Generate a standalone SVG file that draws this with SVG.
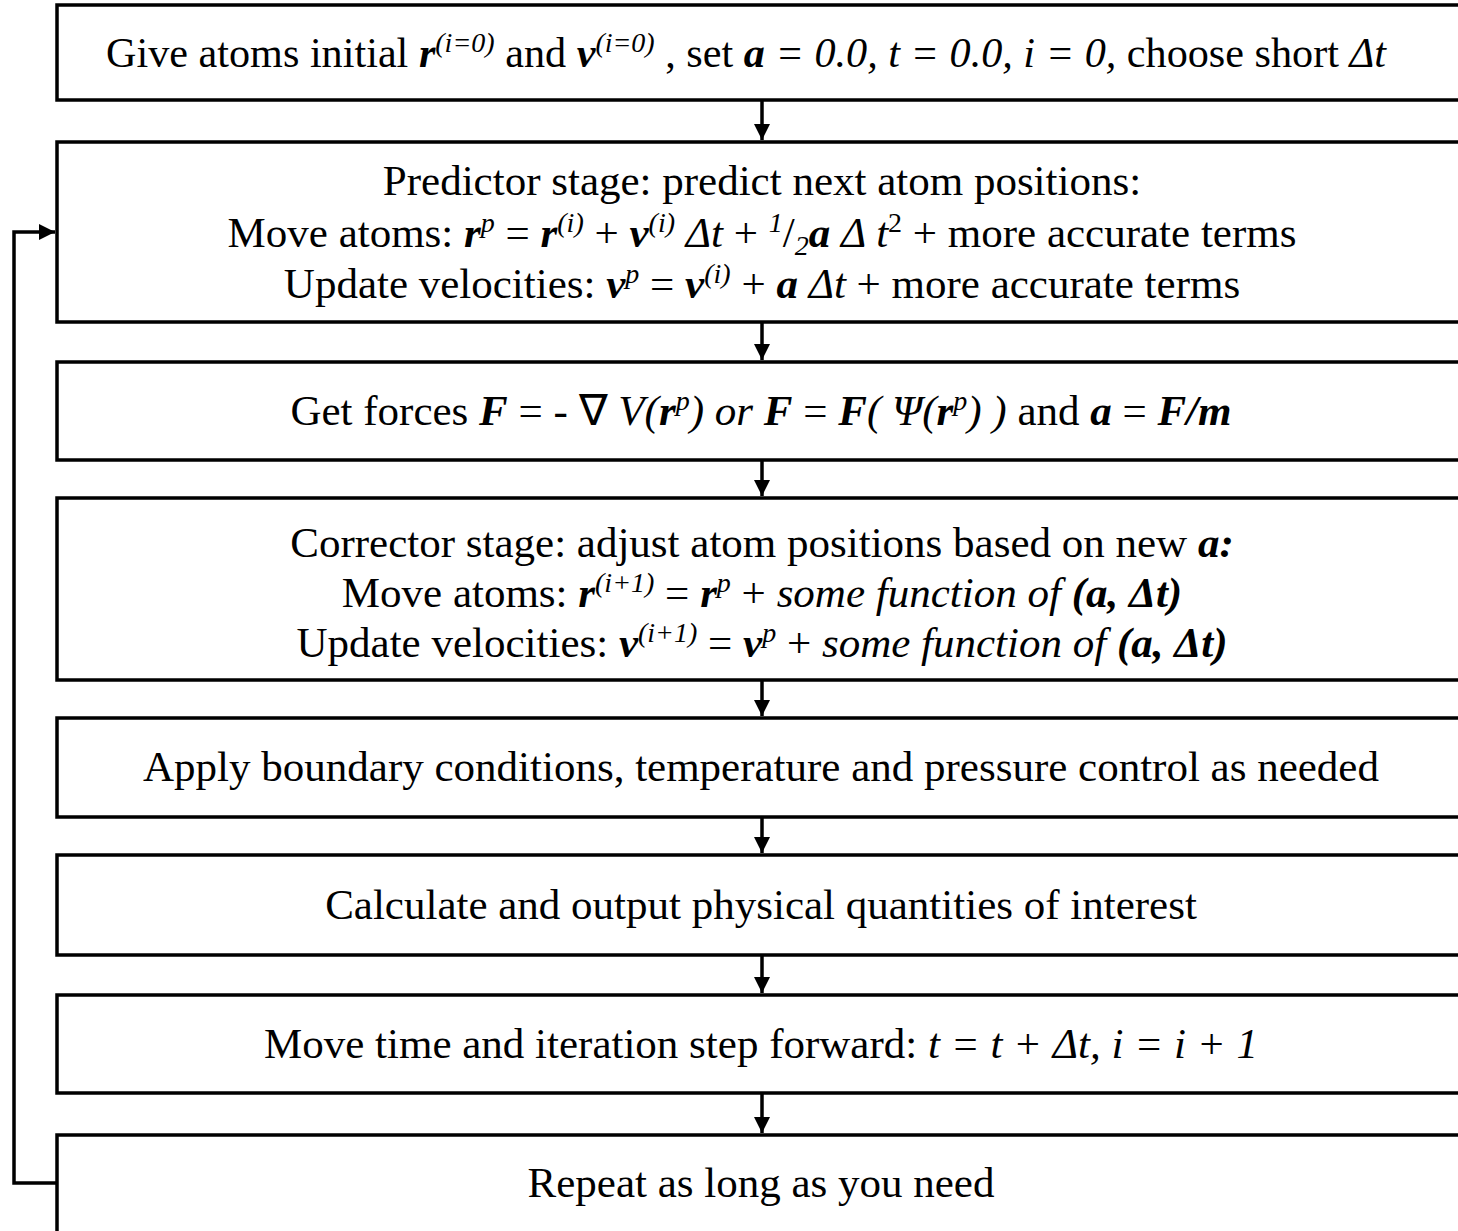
<svg xmlns="http://www.w3.org/2000/svg" width="1458" height="1231" viewBox="0 0 1458 1231">
<defs>
<style>
.box{fill:#fff;stroke:#000;stroke-width:3.5}
.t{font-family:"Liberation Serif","Times New Roman",serif;font-size:43px;fill:#000;text-anchor:middle}
.t1{font-size:42.2px}
.bi{font-weight:bold;font-style:italic}
.i{font-style:italic}
.s{font-size:28px}
.c{stroke:#000;stroke-width:3.5;fill:none}
</style>
<marker id="ah" viewBox="0 0 10 10" refX="10" refY="5" markerWidth="4.6" markerHeight="4.6" markerUnits="strokeWidth" orient="auto">
<path d="M0,0 L10,5 L0,10 Z" fill="#000"/>
</marker>
</defs>
<rect width="1458" height="1231" fill="#fff"/>
<g id="connectors">
<line class="c" x1="762" y1="101" x2="762" y2="140" marker-end="url(#ah)"/>
<line class="c" x1="762" y1="322" x2="762" y2="360" marker-end="url(#ah)"/>
<line class="c" x1="762" y1="460" x2="762" y2="496" marker-end="url(#ah)"/>
<line class="c" x1="762" y1="680" x2="762" y2="716" marker-end="url(#ah)"/>
<line class="c" x1="762" y1="817" x2="762" y2="853" marker-end="url(#ah)"/>
<line class="c" x1="762" y1="955" x2="762" y2="993" marker-end="url(#ah)"/>
<line class="c" x1="762" y1="1093" x2="762" y2="1133" marker-end="url(#ah)"/>
<polyline class="c" points="56,1183 14,1183 14,232 55,232" marker-end="url(#ah)"/>
</g>
<g id="n1">
<rect class="box" x="57" y="5" width="1420" height="95"/>
<text class="t t1" x="746" y="67">Give atoms initial <tspan class="bi">r</tspan><tspan class="i s" dy="-15">(i=0)</tspan><tspan dy="15">  and </tspan><tspan class="bi">v</tspan><tspan class="i s" dy="-15">(i=0)</tspan><tspan dy="15"> , set </tspan><tspan class="bi">a</tspan><tspan class="i"> = 0.0, t = 0.0, i = 0,</tspan> choose short <tspan class="i">Δt</tspan></text>
</g>
<g id="n2">
<rect class="box" x="57" y="142" width="1420" height="180"/>
<text class="t" x="762" y="195">Predictor stage: predict next atom positions:</text>
<text class="t" x="762" y="247">Move atoms: <tspan class="bi">r</tspan><tspan class="i s" dy="-15">p</tspan><tspan dy="15"> = </tspan><tspan class="bi">r</tspan><tspan class="i s" dy="-15">(i)</tspan><tspan dy="15"> + </tspan><tspan class="bi">v</tspan><tspan class="i s" dy="-15">(i)</tspan><tspan class="i" dy="15"> Δt</tspan> + <tspan class="i s" dy="-15">1</tspan><tspan dy="15">/</tspan><tspan class="i s" dy="8">2</tspan><tspan class="bi" dy="-8">a</tspan><tspan class="i"> Δ t</tspan><tspan class="s" dy="-15">2</tspan><tspan dy="15"> + more accurate terms</tspan></text>
<text class="t" x="762" y="298">Update velocities: <tspan class="bi">v</tspan><tspan class="i s" dy="-15">p</tspan><tspan dy="15"> = </tspan><tspan class="bi">v</tspan><tspan class="i s" dy="-15">(i)</tspan><tspan dy="15"> + </tspan><tspan class="bi">a</tspan><tspan class="i"> Δt</tspan> + more accurate terms</text>
</g>
<g id="n3">
<rect class="box" x="57" y="362" width="1420" height="98"/>
<text class="t" x="761" y="425">Get forces <tspan class="bi">F</tspan> = - ∇ <tspan class="i">V(</tspan><tspan class="bi">r</tspan><tspan class="i s" dy="-15">p</tspan><tspan class="i" dy="15">) or </tspan><tspan class="bi">F</tspan> = <tspan class="bi">F</tspan><tspan class="i">( Ψ(</tspan><tspan class="bi">r</tspan><tspan class="i s" dy="-15">p</tspan><tspan class="i" dy="15">) )</tspan> and <tspan class="bi">a</tspan> = <tspan class="bi">F/m</tspan></text>
</g>
<g id="n4">
<rect class="box" x="57" y="498" width="1420" height="182"/>
<text class="t" x="762" y="557">Corrector stage: adjust atom positions based on new <tspan class="bi">a:</tspan></text>
<text class="t" x="762" y="607">Move atoms: <tspan class="bi">r</tspan><tspan class="i s" dy="-15">(i+1)</tspan><tspan dy="15"> = </tspan><tspan class="bi">r</tspan><tspan class="i s" dy="-15">p</tspan><tspan dy="15"> + </tspan><tspan class="i">some function of </tspan><tspan class="bi">(a, Δt)</tspan></text>
<text class="t" x="762" y="657">Update velocities: <tspan class="bi">v</tspan><tspan class="i s" dy="-15">(i+1)</tspan><tspan dy="15"> = </tspan><tspan class="bi">v</tspan><tspan class="i s" dy="-15">p</tspan><tspan dy="15"> + </tspan><tspan class="i">some function of </tspan><tspan class="bi">(a, Δt)</tspan></text>
</g>
<g id="n5">
<rect class="box" x="57" y="718" width="1420" height="99"/>
<text class="t" x="761" y="781">Apply boundary conditions, temperature and pressure control as needed</text>
</g>
<g id="n6">
<rect class="box" x="57" y="855" width="1420" height="100"/>
<text class="t" x="761" y="919">Calculate and output physical quantities of interest</text>
</g>
<g id="n7">
<rect class="box" x="57" y="995" width="1420" height="98"/>
<text class="t" x="761" y="1058">Move time and iteration step forward: <tspan class="i">t = t + Δt, i = i + 1</tspan></text>
</g>
<g id="n8">
<rect class="box" x="57" y="1135" width="1420" height="120"/>
<text class="t" x="761" y="1197">Repeat as long as you need</text>
</g>
</svg>
